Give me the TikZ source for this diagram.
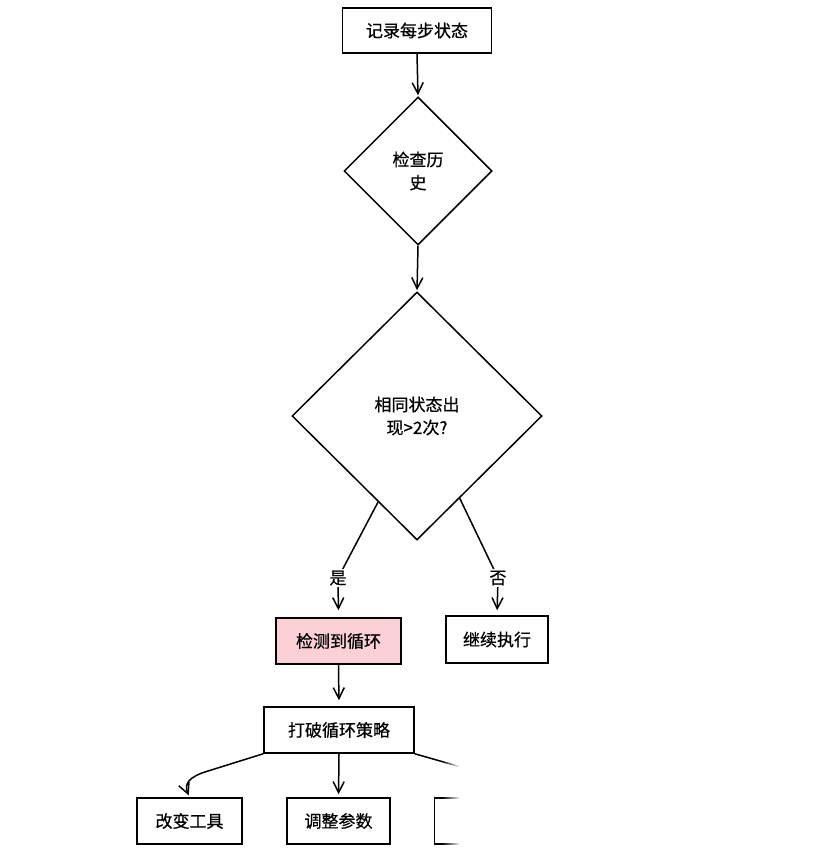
\documentclass[tikz,border=0pt]{standalone}
\usepackage{fontspec}
\setmainfont{Noto Sans CJK SC}[FakeBold=0.6]
\usetikzlibrary{shapes.geometric,arrows.meta,fadings,calc}
\tikzfading[name=fadeinright, left color=transparent!100, right color=transparent!0]
\definecolor{pinkfill}{HTML}{FBD0D7}
\tikzset{
  base/.style={font=\fontsize{17}{23}\selectfont, align=center, line width=1.5pt, inner sep=0pt},
  box/.style={base, draw, rectangle, minimum height=45pt},
  dia/.style={base, draw, diamond},
  lbl/.style={font=\fontsize{17}{23}\selectfont, fill=white, inner sep=2pt},
  conn/.style={line width=1.5pt, -{Straight Barb[length=11pt,width=11pt,line width=1.5pt]}},
}
\begin{document}
\begin{tikzpicture}[x=1pt,y=-1pt]
\useasboundingbox (0,0) rectangle (814,864);
\node[box, minimum width=149pt] (rec) at (417,30.5) {记录每步状态};
\node[dia, minimum width=148pt, minimum height=148pt] (chk) at (418,171) {检查历\\史};
\node[dia, minimum width=250pt, minimum height=248pt] (same) at (417,416) {相同状态出\\现>2次?};
\node[box, minimum width=125pt, minimum height=46pt, fill=pinkfill] (loop) at (338.5,641) {检测到循环};
\node[box, minimum width=102pt, minimum height=47pt] (cont) at (497,639.5) {继续执行};
\node[box, minimum width=150pt, minimum height=46pt] (brk) at (339,730) {打破循环策略};
\node[box, minimum width=105pt, minimum height=46pt] (c1) at (189.5,821) {改变工具};
\node[box, minimum width=103pt, minimum height=46pt] (c2) at (338.5,821) {调整参数};
\node[box, minimum width=105pt, minimum height=46pt] (c3) at (487,821) {};

\draw[conn, shorten >=1pt] (rec.south) -- (chk.north);
\draw[conn, shorten >=1pt] (chk.south) -- (same.north);

\coordinate (ys) at ($(same.west)!0.69!(same.south)$);
\coordinate (ym) at (338,578);
\draw[conn, shorten >=7pt] (ys) -- (ym) -- (loop.north);
\node[lbl] (yes) at (ym) {是};

\coordinate (ns) at ($(same.east)!0.66!(same.south)$);
\coordinate (nm) at (498,578);
\draw[conn, shorten >=5pt] (ns) -- (nm) -- (cont.north);
\node[lbl] (no) at (nm) {否};

\draw[conn, shorten >=6pt] (loop.south) -- (brk.north);
\draw[conn, shorten >=2pt] (brk.south west) -- (208,771) .. controls (188,777) and (184,784) .. (c1.north);
\draw[conn, shorten >=3pt] (brk.south) -- (c2.north);
\draw[conn, shorten >=2pt] (brk.south east) -- (468,769) .. controls (484,775) and (488,784) .. (c3.north);

\fill[white, path fading=fadeinright] (442,740) rectangle (460,864);
\fill[white] (459,740) rectangle (814,864);
\end{tikzpicture}
\end{document}
